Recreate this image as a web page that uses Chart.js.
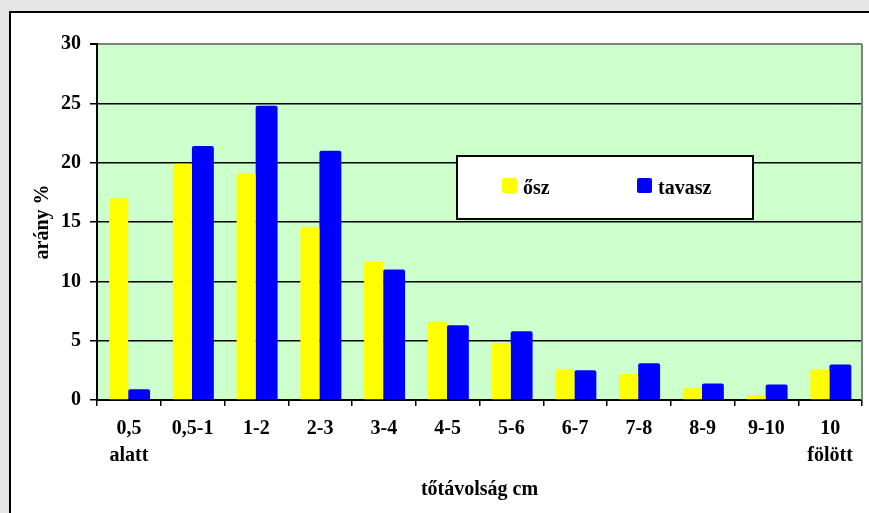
<!DOCTYPE html>
<html>
<head>
<meta charset="utf-8">
<script src="https://cdn.jsdelivr.net/npm/chart.js@4/dist/chart.umd.min.js"></script>
<style>
  html, body { margin: 0; padding: 0; width: 869px; height: 513px; overflow: hidden; background: #e6e6e6; }
  #frame { position: absolute; left: 9px; top: 11px; width: 900px; height: 600px; border: 2px solid #000; background: #fff; }
  #wrap { position: absolute; left: 0; top: 0; width: 869px; height: 513px; }
</style>
</head>
<body>
<div id="frame"></div>
<div id="wrap"><canvas id="chart"></canvas></div>
<script>
// Spacing classes (cm) and the share of plants in each class, autumn vs spring
const categories = [['0,5', 'alatt'], '0,5-1', '1-2', '2-3', '3-4', '4-5', '5-6', '6-7', '7-8', '8-9', '9-10', ['10', 'fölött']];
const seriesNames = ['ősz', 'tavasz'];
const oszValues = [17.0, 19.9, 19.1, 14.6, 11.7, 6.6, 4.8, 2.6, 2.2, 1.0, 0.4, 2.6];
const tavaszValues = [0.9, 21.4, 24.8, 21.0, 11.0, 6.3, 5.8, 2.5, 3.1, 1.4, 1.3, 3.0];
const yTickValues = [0, 5, 10, 15, 20, 25, 30];
const yAxisTitle = 'arány %';
const xAxisTitle = 'tőtávolság cm';

const FONT = '"Liberation Serif", "Times New Roman", serif';

// Plot background and grey plot-area frame
const plotArea = {
  id: 'plotArea',
  beforeDraw(chart) {
    const { ctx, chartArea: a } = chart;
    ctx.save();
    ctx.fillStyle = '#ccffcc';
    ctx.fillRect(a.left, a.top, a.right - a.left, a.bottom - a.top);
    ctx.restore();
  },
  beforeDatasetsDraw(chart) {
    const { ctx, chartArea: a } = chart;
    ctx.save();
    ctx.strokeStyle = '#808080';
    ctx.lineWidth = 2;
    ctx.beginPath();
    ctx.moveTo(a.right, a.top);
    ctx.lineTo(a.right, a.bottom);
    ctx.stroke();
    ctx.restore();
  }
};

// Boxed legend sitting inside the plot area
const boxLegend = {
  id: 'boxLegend',
  afterDatasetsDraw(chart, args, opts) {
    const { ctx } = chart;
    ctx.save();
    ctx.fillStyle = '#fff';
    ctx.fillRect(opts.x, opts.y, opts.w, opts.h);
    ctx.strokeStyle = '#000';
    ctx.lineWidth = 2;
    ctx.strokeRect(opts.x, opts.y, opts.w, opts.h);
    ctx.font = 'bold 20px ' + FONT;
    ctx.textBaseline = 'alphabetic';
    ctx.textAlign = 'left';
    chart.data.datasets.forEach((ds, i) => {
      const ix = opts.itemX[i];
      ctx.fillStyle = ds.backgroundColor;
      ctx.beginPath();
      ctx.roundRect(ix, opts.boxY, 15, 15, 2);
      ctx.fill();
      ctx.fillStyle = '#000';
      ctx.fillText(ds.label, ix + 21, opts.textY);
    });
    ctx.restore();
  }
};

new Chart(document.getElementById('chart'), {
  type: 'bar',
  data: {
    labels: categories,
    datasets: [
      { label: seriesNames[0], data: oszValues, backgroundColor: '#ffff00', barPercentage: 0.93, categoryPercentage: 0.643, borderRadius: 2 },
      { label: seriesNames[1], data: tavaszValues, backgroundColor: '#0000ff', barPercentage: 1.07, categoryPercentage: 0.643, borderRadius: 2 }
    ]
  },
  options: {
    responsive: true,
    maintainAspectRatio: false,
    animation: false,
    layout: { padding: { left: 0, top: 44, right: 7, bottom: 0 } },
    plugins: {
      legend: { display: false },
      tooltip: { enabled: false },
      boxLegend: { x: 457, y: 156, w: 296, h: 63, itemX: [502, 637], boxY: 178, textY: 194 }
    },
    scales: {
      x: {
        afterFit(scale) { scale.height = 113; },
        grid: { display: true, drawOnChartArea: false, drawTicks: true, tickLength: 6, offset: true, color: '#000', lineWidth: 1.5 },
        border: { display: true, color: '#000', width: 2 },
        ticks: { color: '#000', font: { family: FONT, size: 20, weight: 'bold', lineHeight: 1.35 }, padding: 9, maxRotation: 0, autoSkip: false },
        title: { display: true, text: xAxisTitle, color: '#000', font: { family: FONT, size: 20, weight: 'bold', lineHeight: 1.2 }, padding: { top: 0, bottom: 11 } }
      },
      y: {
        min: 0,
        max: 30,
        afterFit(scale) { scale.width = 97; },
        afterBuildTicks(scale) { scale.ticks = yTickValues.map(v => ({ value: v })); },
        grid: {
          color: ctx => (ctx.tick && ctx.tick.value === 30 ? '#808080' : '#000'),
          lineWidth: ctx => (ctx.tick && ctx.tick.value === 30 ? 2 : 1.5),
          tickColor: '#000',
          tickLength: 7
        },
        border: { display: true, color: '#000', width: 2 },
        ticks: { color: '#000', font: { family: FONT, size: 20, weight: 'bold' }, padding: 9 },
        title: { display: true, text: yAxisTitle, color: '#000', font: { family: FONT, size: 20, weight: 'bold', lineHeight: 1.2 }, padding: { top: 31, bottom: 0 } }
      }
    }
  },
  plugins: [plotArea, boxLegend]
});
</script>
</body>
</html>
